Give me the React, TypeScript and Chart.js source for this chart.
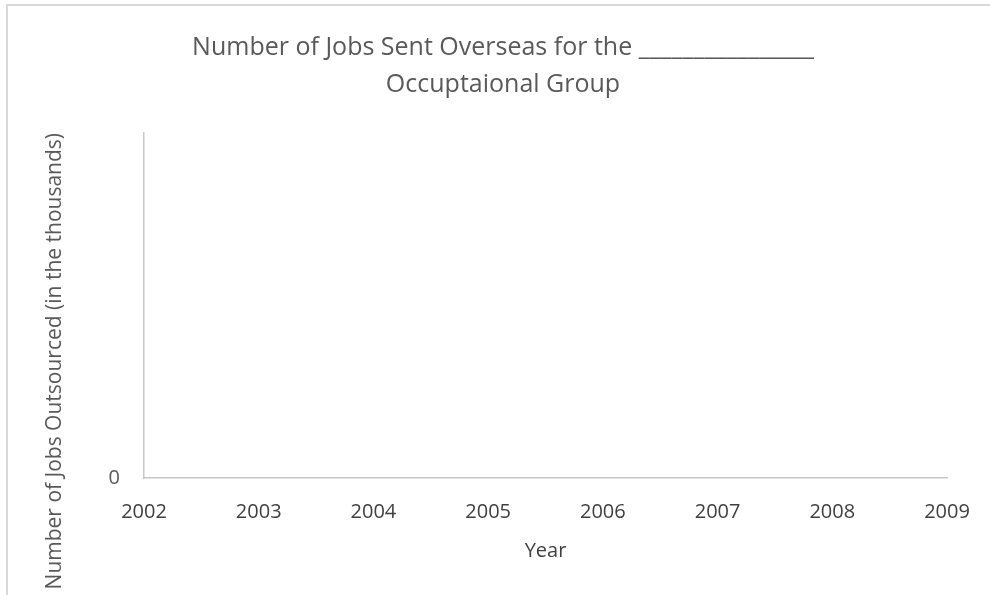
import React, { useEffect, useRef } from "react";
import { Chart, registerables } from "chart.js";

Chart.register(...registerables);

const years: number[] = [2002, 2003, 2004, 2005, 2006, 2007, 2008, 2009];
const jobsOutsourced: (number | null)[] = [null, null, null, null, null, null, null, null];
const yTickLabels: number[] = [0];
const titleLines: string[] = [
  "Number of Jobs Sent Overseas for the ________________",
  "Occuptaional Group",
];
const xTitle = "Year";
const yTitle = "Number of Jobs Outsourced (in the thousands)";

const FONT = "'Open Sans', sans-serif";
const PAD_LEFT = 28;
const PAD_RIGHT = 12;

export default function App() {
  const ref = useRef<HTMLCanvasElement | null>(null);

  useEffect(() => {
    if (!ref.current) return;
    const chart = new Chart(ref.current, {
      type: "line",
      data: {
        datasets: [
          {
            label: "Jobs",
            data: years.map((y, i) => ({ x: y, y: jobsOutsourced[i] as any })),
            borderColor: "#4472c4",
            backgroundColor: "#4472c4",
          },
        ],
      },
      options: {
        animation: false,
        responsive: false,
        devicePixelRatio: 1,
        layout: { padding: { left: PAD_LEFT, right: PAD_RIGHT, top: 29, bottom: 0 } },
        plugins: {
          legend: { display: false },
          tooltip: { enabled: false },
          title: {
            display: true,
            text: titleLines,
            color: "#595959",
            font: { family: FONT, size: 25, weight: "normal", lineHeight: 1.5 },
            padding: { top: 0, bottom: 29 },
          },
        },
        scales: {
          x: {
            type: "linear",
            min: years[0],
            max: years[years.length - 1],
            afterBuildTicks: (scale: any) => {
              scale.ticks = years.map((v) => ({ value: v }));
            },
            afterFit: (scale: any) => {
              scale.height = 595 - 478;
              scale.paddingRight = 990 - 947;
            },
            grid: { display: false, drawTicks: false },
            border: { display: true, color: "#c8c8c8", width: 1.5 },
            ticks: {
              autoSkip: false,
              maxRotation: 0,
              padding: 22,
              color: "#404040",
              font: { family: FONT, size: 20 },
              callback: (v: any) => String(v),
            },
            title: {
              display: true,
              text: xTitle,
              color: "#404040",
              font: { family: FONT, size: 20 },
              padding: { top: 0, bottom: 32 },
            },
          },
          y: {
            min: 0,
            max: 1,
            afterBuildTicks: (scale: any) => {
              scale.ticks = yTickLabels.map((v) => ({ value: v }));
            },
            afterFit: (scale: any) => {
              scale.width = 144 - PAD_LEFT;
            },
            grid: { display: false, drawTicks: false },
            border: { display: true, color: "#c8c8c8", width: 1.5 },
            ticks: {
              padding: 24,
              color: "#595959",
              font: { family: FONT, size: 20 },
              callback: (v: any) => String(v),
            },
            title: {
              display: true,
              text: yTitle,
              align: "end",
              color: "#595959",
              font: { family: FONT, size: 21 },
              padding: { top: 14, bottom: 0 },
            },
          },
        },
      },
    });
    return () => chart.destroy();
  }, []);

  return (
    <div
      style={{
        position: "absolute",
        left: 0,
        top: 0,
        width: 990,
        height: 595,
        overflow: "hidden",
        background: "#ffffff",
      }}
    >
      <div
        style={{
          position: "absolute",
          left: 6,
          top: 4,
          width: 1000,
          height: 700,
          border: "2px solid #d9d9d9",
          boxSizing: "border-box",
        }}
      />
      <canvas
        ref={ref}
        width={990}
        height={595}
        style={{ position: "absolute", left: 0, top: 0, width: 990, height: 595 }}
      />
    </div>
  );
}
